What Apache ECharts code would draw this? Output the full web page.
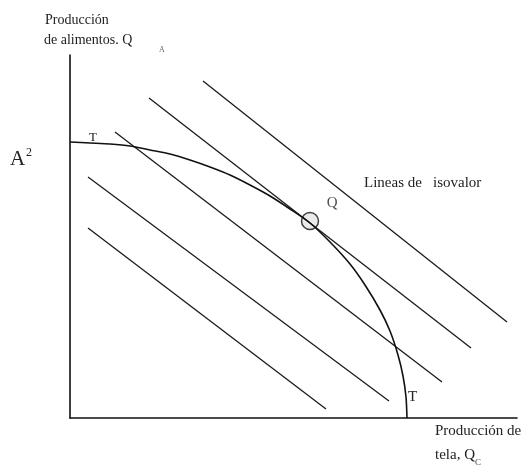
<!DOCTYPE html>
<html><head><meta charset="utf-8">
<script src="https://cdn.jsdelivr.net/npm/echarts@6/dist/echarts.min.js"></script>
<style>html,body{margin:0;padding:0;background:#fff}#c{width:529px;height:467px}</style>
</head><body><div id="c"></div>
<script>
// Frontera de posibilidades de producción (curva T-T) [Q_C, Q_A]
const frontier = [[0,276],[20,275],[40,274],[60,272],[80,268],[100,264],[120,258],[140,251],[160,243],[180,233],[200,222],[220,209],[240,195],[260,176],[280,154],[295,133],[310,108],[320,87],[328,63],[333,42],[336,21],[337,0]];
// Líneas de isovalor: [inicio, fin]
const isoLines = [
  [[133,337],[437,96]],
  [[79,320],[401,70]],
  [[45,286],[372,36]],
  [[18,241],[319,17]],
  [[18,190],[256,9]]
];
// Punto de producción óptima Q
const pointQ = [[240,197]];

const chart = echarts.init(document.getElementById('c'));
const serif = 'Liberation Serif';
const series = [];
isoLines.forEach((l,i)=>series.push({
  type:'line', data:l, symbol:'none', silent:true,
  lineStyle:{color:'#1a1a1a', width:1.3}
}));
series.push({type:'line', data:frontier, smooth:0.25, symbol:'none',
  lineStyle:{color:'#111', width:1.6}});
series.push({type:'scatter', data:pointQ, symbol:'circle', symbolSize:17,
  itemStyle:{color:'#e6e6e6', borderColor:'#111', borderWidth:1.5},
  label:{show:true, formatter:'Q', position:[26,-16], fontFamily:serif, fontSize:15, color:'#222'}});

chart.setOption({
  animation:false,
  grid:{left:70, right:12, top:55, bottom:49},
  xAxis:{type:'value', min:0, max:447, axisLine:{show:true, lineStyle:{color:'#111', width:1.6}},
    axisTick:{show:false}, axisLabel:{show:false}, splitLine:{show:false}},
  yAxis:{type:'value', min:0, max:363, axisLine:{show:true, lineStyle:{color:'#111', width:1.6}},
    axisTick:{show:false}, axisLabel:{show:false}, splitLine:{show:false}},
  series:series,
  graphic:[
    {type:'text', left:45, top:13, style:{text:'Producción', font:'14px "Liberation Serif"', fill:'#222'}},
    {type:'text', left:44, top:33, style:{text:'de alimentos. Q', font:'14px "Liberation Serif"', fill:'#222'}},
    {type:'text', left:159, top:46, style:{text:'A', font:'8px "Liberation Serif"', fill:'#666'}},
    {type:'text', left:10, top:149, style:{text:'A', font:'21px "Liberation Serif"', fill:'#222'}},
    {type:'text', left:26, top:147, style:{text:'2', font:'12px "Liberation Serif"', fill:'#222'}},
    {type:'text', left:89, top:131, style:{text:'T', font:'13px "Liberation Serif"', fill:'#222'}},
    {type:'text', left:408, top:390, style:{text:'T', font:'15px "Liberation Serif"', fill:'#222'}},
    {type:'text', left:364, top:176, style:{text:'Lineas de', font:'15px "Liberation Serif"', fill:'#222'}},
    {type:'text', left:433, top:176, style:{text:'isovalor', font:'15px "Liberation Serif"', fill:'#222'}},
    {type:'text', left:435, top:424, style:{text:'Producción de', font:'15px "Liberation Serif"', fill:'#222'}},
    {type:'text', left:435, top:448, style:{text:'tela, Q', font:'15px "Liberation Serif"', fill:'#222'}},
    {type:'text', left:475, top:458, style:{text:'C', font:'9px "Liberation Serif"', fill:'#444'}}
  ]
});
</script></body></html>
